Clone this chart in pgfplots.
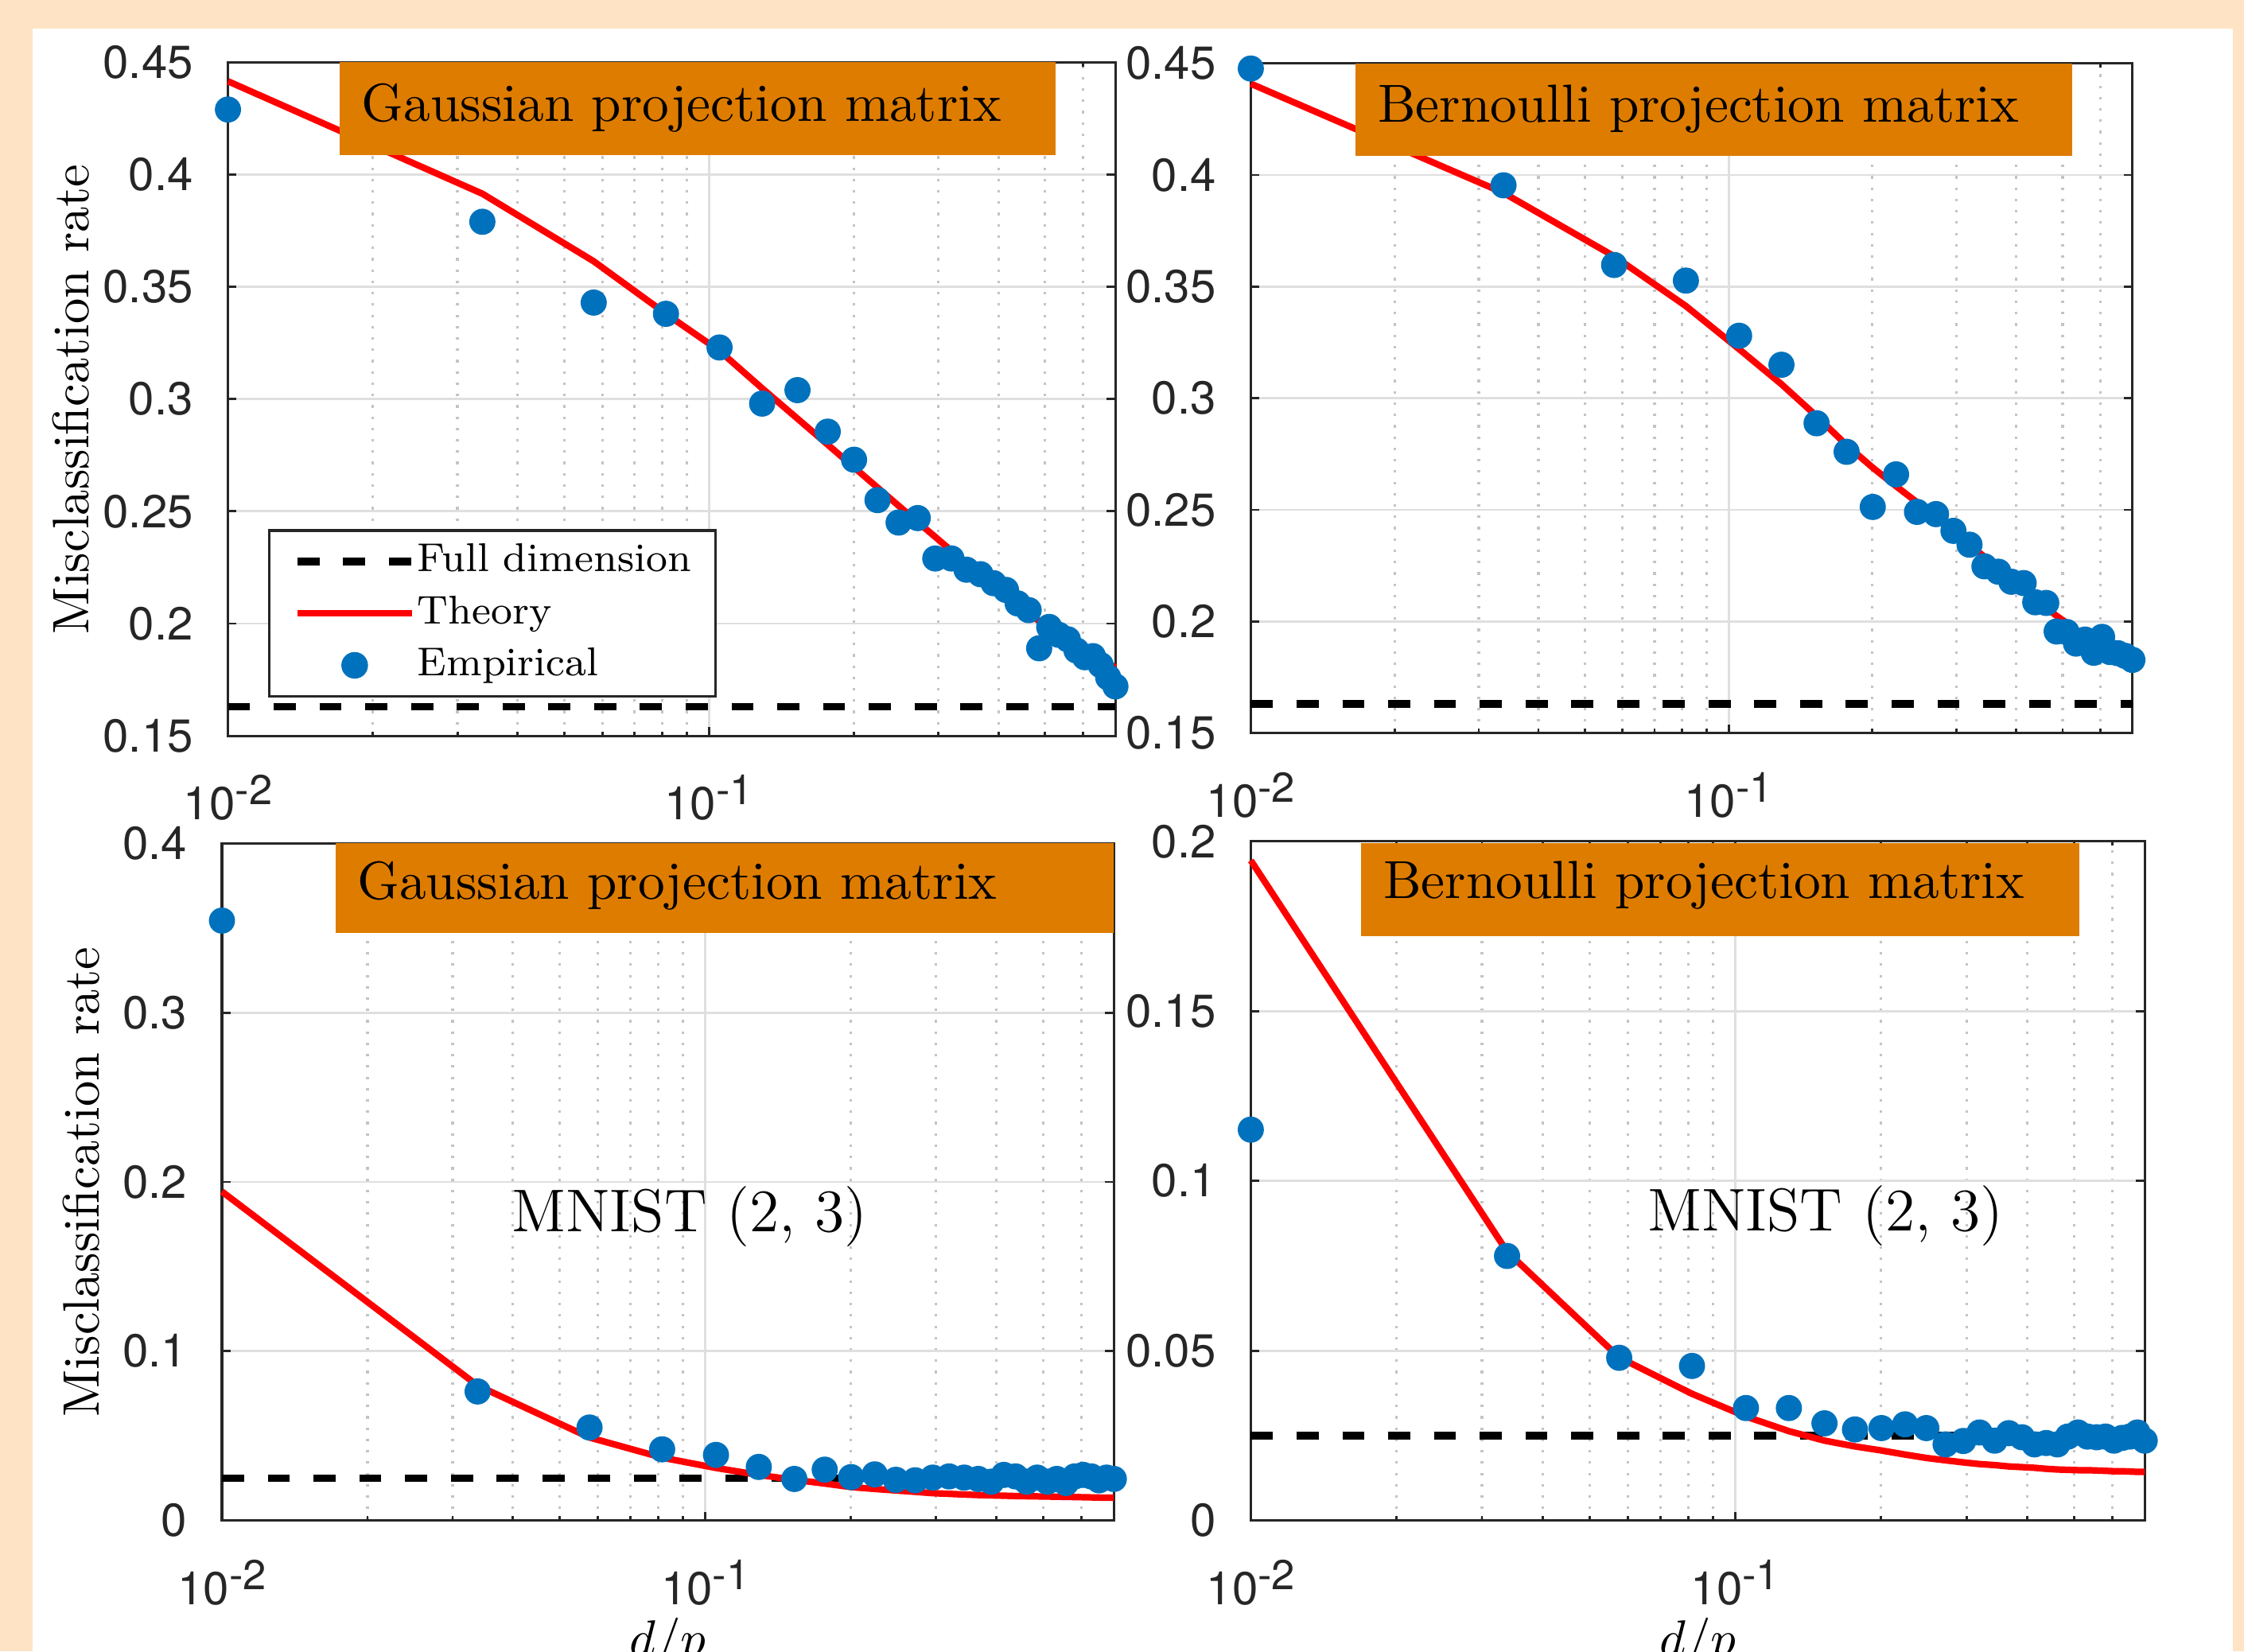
\documentclass[border=0pt]{standalone}
\usepackage{fontspec}
\usepackage{pgfplots}
\usepackage{pgfplotstable}
\pgfplotsset{compat=1.18}
\newfontfamily\tickfont{TeX Gyre Heros}
\definecolor{peach}{HTML}{FFE3C5}
\definecolor{boxorange}{HTML}{DE7C00}
\definecolor{mblue}{HTML}{0072BD}
\definecolor{axisgray}{HTML}{262626}
\definecolor{gridgray}{HTML}{DFDFDF}
\definecolor{minorgray}{HTML}{C4C4C4}

\newcommand{\tpow}[1]{10\raisebox{3pt}{\fontsize{8.3}{9}\selectfont #1}}

% x = d/p, em = empirical, th = theory
\pgfplotstableread{
x      em      th
0.0100 0.4290  0.4416
0.0338 0.3790  0.3915
0.0576 0.3430  0.3614
0.0814 0.3380  0.3380
0.1052 0.3230  0.3215
0.1290 0.2980  0.3048
0.1528 0.3040  0.2913
0.1766 0.2855  0.2797
0.2003 0.2730  0.2696
0.2241 0.2550  0.2606
0.2479 0.2450  0.2525
0.2717 0.2470  0.2452
0.2955 0.2290  0.2386
0.3193 0.2290  0.2324
0.3431 0.2240  0.2271
0.3669 0.2220  0.2217
0.3907 0.2180  0.2172
0.4145 0.2150  0.2128
0.4383 0.2090  0.2089
0.4621 0.2060  0.2048
0.4859 0.1890  0.2010
0.5097 0.1985  0.1985
0.5334 0.1950  0.1960
0.5572 0.1930  0.1934
0.5810 0.1880  0.1910
0.6048 0.1850  0.1887
0.6286 0.1855  0.1864
0.6524 0.1815  0.1843
0.6762 0.1760  0.1823
0.7000 0.1720  0.1804
}\tldata

\pgfplotstableread{
x      em      th
0.0100 0.4477  0.4409
0.0338 0.3954  0.3920
0.0576 0.3597  0.3636
0.0814 0.3527  0.3413
0.1052 0.3280  0.3220
0.1290 0.3150  0.3063
0.1528 0.2888  0.2920
0.1766 0.2760  0.2790
0.2003 0.2513  0.2689
0.2241 0.2659  0.2606
0.2479 0.2491  0.2534
0.2717 0.2481  0.2466
0.2955 0.2406  0.2401
0.3193 0.2344  0.2343
0.3431 0.2247  0.2290
0.3669 0.2223  0.2236
0.3907 0.2178  0.2190
0.4145 0.2172  0.2145
0.4383 0.2086  0.2103
0.4621 0.2083  0.2061
0.4859 0.1955  0.2025
0.5097 0.1953  0.1994
0.5334 0.1901  0.1962
0.5572 0.1919  0.1934
0.5810 0.1860  0.1906
0.6048 0.1931  0.1880
0.6286 0.1863  0.1857
0.6524 0.1858  0.1830
0.6762 0.1846  0.1807
0.7000 0.1828  0.1786
}\trdata

\pgfplotstableread{
x      em      th
0.0100 0.3544  0.1943
0.0338 0.0762  0.0797
0.0576 0.0549  0.0490
0.0814 0.0420  0.0371
0.1052 0.0387  0.0310
0.1290 0.0316  0.0269
0.1528 0.0245  0.0240
0.1766 0.0300  0.0218
0.2003 0.0256  0.0197
0.2241 0.0272  0.0186
0.2479 0.0240  0.0177
0.2717 0.0237  0.0169
0.2955 0.0253  0.0161
0.3193 0.0260  0.0157
0.3431 0.0253  0.0153
0.3669 0.0245  0.0150
0.3907 0.0229  0.0148
0.4145 0.0269  0.0146
0.4383 0.0260  0.0144
0.4621 0.0229  0.0143
0.4859 0.0253  0.0142
0.5097 0.0229  0.0141
0.5334 0.0245  0.0140
0.5572 0.0221  0.0139
0.5810 0.0260  0.0138
0.6048 0.0269  0.0137
0.6286 0.0260  0.0136
0.6524 0.0237  0.0135
0.6762 0.0253  0.0134
0.7000 0.0245  0.0134
}\bldata

\pgfplotstableread{
x      em      th
0.0100 0.1151  0.1944
0.0338 0.0779  0.0792
0.0576 0.0479  0.0480
0.0814 0.0455  0.0373
0.1052 0.0331  0.0306
0.1290 0.0331  0.0263
0.1528 0.0286  0.0235
0.1766 0.0268  0.0218
0.2003 0.0272  0.0206
0.2241 0.0283  0.0194
0.2479 0.0272  0.0184
0.2717 0.0224  0.0177
0.2955 0.0234  0.0171
0.3193 0.0259  0.0166
0.3431 0.0235  0.0163
0.3669 0.0257  0.0159
0.3907 0.0245  0.0157
0.4145 0.0224  0.0155
0.4383 0.0228  0.0152
0.4621 0.0224  0.0150
0.4859 0.0247  0.0149
0.5097 0.0259  0.0148
0.5334 0.0247  0.0148
0.5572 0.0245  0.0147
0.5810 0.0247  0.0146
0.6048 0.0235  0.0145
0.6286 0.0243  0.0145
0.6524 0.0247  0.0144
0.6762 0.0259  0.0143
0.7000 0.0235  0.0143
}\brdata

\pgfplotsset{
  panel/.style={
    scale only axis, xmin=0.01, xmax=0.7,
    xtick={0.01,0.1}, xticklabels={\tpow{-2},\tpow{-1}},
    minor xtick={0.02,0.03,0.04,0.05,0.06,0.07,0.08,0.09,0.2,0.3,0.4,0.5,0.6},
    minor y tick num=0,
    xmajorgrids, xminorgrids, ymajorgrids,
    major grid style={gridgray, line width=0.45pt},
    minor grid style={minorgray, line width=0.5pt, dash pattern=on 0.5pt off 1.75pt},
    tick align=inside, major tick length=0.06cm, minor tick length=0.03cm,
    tick style={axisgray, line width=0.45pt},
    axis line style={axisgray, line width=0.5pt},
    ticklabel style={font=\tickfont\fontsize{9.2}{11}\selectfont, text=axisgray},
    yticklabel style={xshift=-3.4pt},
    xticklabel style={yshift=-4.3pt},
    clip=false, scaled y ticks=false,
    label style={font=\fontsize{10.2}{12}\selectfont},
    ylabel style={inner sep=0pt, anchor=south},
    xlabel style={at={(axis description cs:0.5,0)}, anchor=north, inner sep=0pt, yshift=-0.675cm},
  },
  fulldim/.style={black, line width=1.5pt, dash pattern=on 4.4pt off 4.7pt,
    legend image code/.code={\draw[##1] (0cm,0cm) -- (0.8cm,0cm);}},
  theory/.style={red, line width=1.3pt,
    legend image code/.code={\draw[##1] (0cm,0cm) -- (0.8cm,0cm);}},
  empir/.style={only marks, mark=*, mblue, mark size=2.4pt,
    legend image code/.code={\path[draw=none, fill=none] (0cm,0cm) -- (0.8cm,0cm);
      \draw[##1] plot coordinates {(0.4cm,0cm)};}},
}

\begin{document}
\begin{tikzpicture}
\fill[peach] (0,0) rectangle (15.68,11.54);
\fill[white] (0.228,0) rectangle (15.60,11.34);

% top left
\begin{semilogxaxis}[panel, anchor=south west, at={(1.593cm,6.398cm)}, width=6.201cm, height=4.706cm,
  ymin=0.15, ymax=0.45, ytick={0.15,0.2,0.25,0.3,0.35,0.4,0.45},
  yticklabels={0.15,0.2,0.25,0.3,0.35,0.4,0.45},
  ylabel={Misclassification rate}, ylabel style={at={(axis description cs:-0.1553,0.5)}},
  legend cell align=left,
  legend style={at={(0.0452,0.3068)}, anchor=north west, draw=axisgray, line width=0.5pt,
    font=\fontsize{8}{9}\selectfont, inner xsep=0.17cm, inner ysep=0.035cm,
    column sep=0.012cm, row sep=0pt, nodes={inner sep=0pt, minimum height=0.363cm}}]
\addplot[fulldim] coordinates {(0.01,0.163) (0.7,0.163)};
\addplot[theory] table[x=x, y=th] {\tldata};
\addplot[empir] table[x=x, y=em] {\tldata};
\legend{Full dimension, Theory, Empirical}
\end{semilogxaxis}

% top right
\begin{semilogxaxis}[panel, anchor=south west, at={(8.74cm,6.417cm)}, width=6.16cm, height=4.68cm,
  ymin=0.15, ymax=0.45, ytick={0.15,0.2,0.25,0.3,0.35,0.4,0.45},
  yticklabels={0.15,0.2,0.25,0.3,0.35,0.4,0.45}]
\addplot[fulldim] coordinates {(0.01,0.163) (0.7,0.163)};
\addplot[theory] table[x=x, y=th] {\trdata};
\addplot[empir] table[x=x, y=em] {\trdata};
\end{semilogxaxis}

% bottom left
\begin{semilogxaxis}[panel, anchor=south west, at={(1.551cm,0.915cm)}, width=6.232cm, height=4.731cm,
  ymin=0, ymax=0.4, ytick={0,0.1,0.2,0.3,0.4}, yticklabels={0,0.1,0.2,0.3,0.4},
  ylabel={Misclassification rate}, ylabel style={at={(axis description cs:-0.1358,0.5)}},
  xlabel={$d/p$}]
\addplot[fulldim] coordinates {(0.01,0.025) (0.7,0.025)};
\addplot[theory] table[x=x, y=th] {\bldata};
\addplot[empir] table[x=x, y=em] {\bldata};
\node[anchor=base, font=\fontsize{12}{14}\selectfont] at (axis description cs:0.5245,0.426) {MNIST (2, 3)};
\end{semilogxaxis}

% bottom right
\begin{semilogxaxis}[panel, anchor=south west, at={(8.74cm,0.915cm)}, width=6.246cm, height=4.745cm,
  ymin=0, ymax=0.2, ytick={0,0.05,0.1,0.15,0.2}, yticklabels={0,0.05,0.1,0.15,0.2},
  xlabel={$d/p$}]
\addplot[fulldim] coordinates {(0.01,0.025) (0.7,0.025)};
\addplot[theory] table[x=x, y=th] {\brdata};
\addplot[empir] table[x=x, y=em] {\brdata};
\node[anchor=base, font=\fontsize{12}{14}\selectfont] at (axis description cs:0.643,0.426) {MNIST (2, 3)};
\end{semilogxaxis}

% title boxes
\fill[boxorange] (2.372,10.454) rectangle (7.376,11.104);
\node[anchor=base west, inner sep=0pt, font=\fontsize{10.65}{12}\selectfont] at (2.52,10.694) {Gaussian projection matrix};
\fill[boxorange] (9.47,10.448) rectangle (14.48,11.097);
\node[anchor=base west, inner sep=0pt, font=\fontsize{10.65}{12}\selectfont] at (9.62,10.687) {Bernoulli projection matrix};
\fill[boxorange] (2.346,5.02) rectangle (7.783,5.646);
\node[anchor=base west, inner sep=0pt, font=\fontsize{10.65}{12}\selectfont] at (2.49,5.256) {Gaussian projection matrix};
\fill[boxorange] (9.51,5.00) rectangle (14.53,5.65);
\node[anchor=base west, inner sep=0pt, font=\fontsize{10.65}{12}\selectfont] at (9.66,5.264) {Bernoulli projection matrix};

\pgfresetboundingbox
\path[use as bounding box] (0,0) rectangle (15.68,11.54);
\end{tikzpicture}
\end{document}
